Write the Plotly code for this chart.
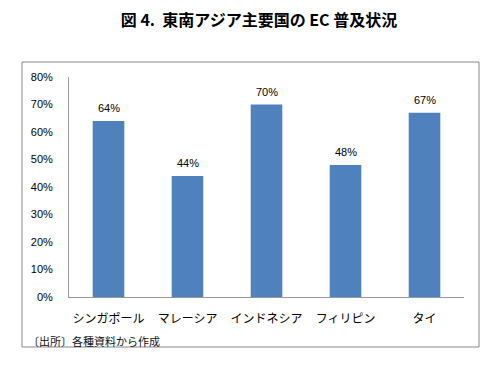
import plotly.graph_objects as go

categories = ["シンガポール", "マレーシア", "インドネシア", "フィリピン", "タイ"]
values = [64, 44, 70, 48, 67]
labels = [f"{v}%" for v in values]
y_ticks = [0, 10, 20, 30, 40, 50, 60, 70, 80]
y_tick_text = [f"{t}%" for t in y_ticks]

# page body has an 8px margin; work in screen pixels and offset
OFF = 8
W, H = 504 - OFF, 367 - OFF
L, R, T, B = 69 - OFF, 464 - OFF, 77 - OFF, 297 - OFF

def px_x(x):
    return (x - OFF - L) / (R - L)

def px_y(y):
    return (B - (y - OFF)) / (B - T)

font_jp = "Noto Sans CJK JP, sans-serif"
font_lat = "Liberation Sans, Arial, sans-serif"

fig = go.Figure(go.Bar(
    x=categories, y=values, marker_color="#4F81BD", marker_line_width=0,
    cliponaxis=False,
))

for c, v, t in zip(categories, values, labels):
    fig.add_annotation(x=c, y=v, text=t, showarrow=False, yshift=13,
                       xanchor="center", yanchor="middle",
                       font=dict(family=font_lat, size=11, color="#000000"))

fig.update_layout(
    width=W, height=H,
    margin=dict(l=L, r=W - R, t=T, b=H - B, pad=0, autoexpand=False),
    plot_bgcolor="white", paper_bgcolor="white",
    bargap=0.6, showlegend=False,
    title=dict(text="<b>図 4.  東南アジア主要国の EC 普及状況</b>", x=(259 - OFF) / W, xanchor="center",
               y=1 - (20 - OFF) / H, yanchor="middle", automargin=False,
               font=dict(family=font_jp, size=16, color="#000000")),
    xaxis=dict(showgrid=False, showline=True, linecolor="#999999", linewidth=1,
               ticks="", ticklabelstandoff=11, automargin=False,
               tickfont=dict(family=font_jp, size=12, color="#000000")),
    yaxis=dict(range=[0, 80], tickvals=y_ticks, ticktext=y_tick_text,
               showgrid=False, showline=True, linecolor="#999999", linewidth=1,
               ticks="", ticklabelstandoff=13, zeroline=False, automargin=False,
               tickfont=dict(family=font_lat, size=11, color="#000000")),
    shapes=[dict(type="rect", xref="paper", yref="paper",
                 x0=px_x(22), x1=px_x(479), y0=px_y(347), y1=px_y(62),
                 line=dict(color="#888888", width=1), layer="below")],
)
fig.add_annotation(text="〔出所〕各種資料から作成", xref="paper", yref="paper",
                   x=px_x(26), y=px_y(341), xanchor="left", yanchor="middle",
                   showarrow=False,
                   font=dict(family=font_jp, size=11, color="#111111"))

fig.write_html("out.html")
